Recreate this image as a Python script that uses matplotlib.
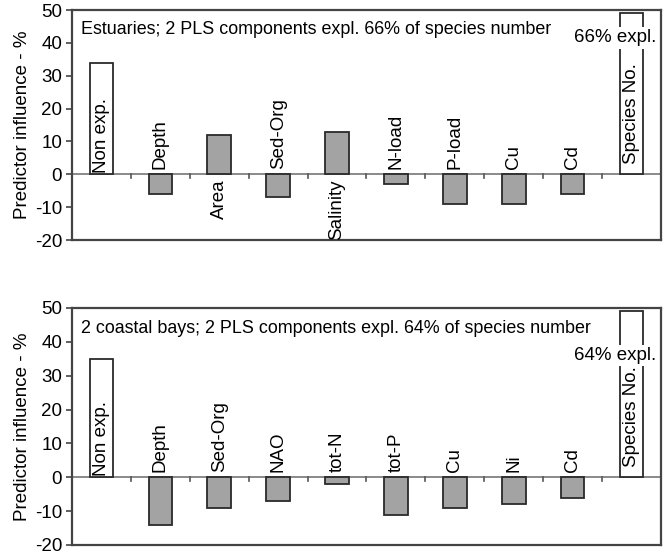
import matplotlib
matplotlib.use("Agg")
import matplotlib.pyplot as plt
import numpy as np

plt.rcParams['font.family'] = ['Liberation Sans', 'DejaVu Sans']

# Panel 1: estuaries
cats1 = ["Non exp.", "Depth", "Area", "Sed-Org", "Salinity", "N-load", "P-load", "Cu", "Cd", "Species No."]
vals1 = [34, -6, 12, -7, 13, -3, -9, -9, -6, 49]
title1 = "Estuaries; 2 PLS components expl. 66% of species number"
expl1 = "66% expl."

# Panel 2: coastal bays
cats2 = ["Non exp.", "Depth", "Sed-Org", "NAO", "tot-N", "tot-P", "Cu", "Ni", "Cd", "Species No."]
vals2 = [35, -14, -9, -7, -2, -11, -9, -8, -6, 49]
title2 = "2 coastal bays; 2 PLS components expl. 64% of species number"
expl2 = "64% expl."

yticks = [-20, -10, 0, 10, 20, 30, 40, 50]
ylabel = "Predictor influence - %"

fig = plt.figure(figsize=(6.72, 5.56), dpi=100)
ax1 = fig.add_axes([0.1071, 0.5683, 0.8765, 0.4137])
ax2 = fig.add_axes([0.1071, 0.0198, 0.8765, 0.4263])

spine_c = "#444444"
bar_gray = "#a3a3a3"
edge_c = "#2a2a2a"
fs = 13.5


def draw(ax, cats, vals, title, expl, expl_y):
    n = len(cats)
    x = np.arange(n)
    colors = ["white" if (i == 0 or i == n - 1) else bar_gray for i in range(n)]
    ax.bar(x, vals, width=0.4, color=colors, edgecolor=edge_c, linewidth=1.3, zorder=3)
    ax.set_xlim(-0.5, n - 0.5)
    ax.set_ylim(-20, 50)
    ax.set_yticks(yticks)
    ax.set_yticklabels([str(t) for t in yticks], fontsize=13.5)
    ax.tick_params(axis='y', direction='out', length=4, width=1.2, color=spine_c, pad=3)
    ax.set_xticks([])
    ax.axhline(0, color="#777777", linewidth=1.2, zorder=2)
    # small category separators on zero line
    for b in np.arange(0.5, n - 0.5, 1.0):
        ax.plot([b, b], [0, -1.0], color="#555555", linewidth=1.2, zorder=2)
    for s in ax.spines.values():
        s.set_color(spine_c)
        s.set_linewidth(1.6)
    ax.set_ylabel(ylabel, fontsize=13.5, labelpad=3)
    for i, (c, v) in enumerate(zip(cats, vals)):
        if i == n - 1:
            ax.text(i, 3.0, c, rotation=90, ha='center', va='bottom', fontsize=fs, zorder=5)
        elif i == 0:
            ax.text(i, 0.5, c, rotation=90, ha='center', va='bottom', fontsize=fs, zorder=5)
        elif v < 0:
            ax.text(i, 1.5, c, rotation=90, ha='center', va='bottom', fontsize=fs, zorder=5)
        else:
            ax.text(i, -1.5, c, rotation=90, ha='center', va='top', fontsize=fs, zorder=5)
    ax.text(-0.5 + 0.16, 44.0, title, ha='left', va='center', fontsize=12.9, zorder=5)
    ax.text(n - 0.5 - 0.08, expl_y, expl, ha='right', va='center', fontsize=13.5, zorder=6,
            bbox=dict(facecolor='white', edgecolor='none', pad=1.5))


draw(ax1, cats1, vals1, title1, expl1, 41.5)
draw(ax2, cats2, vals2, title2, expl2, 36)

fig.savefig("out.png", dpi=100)
